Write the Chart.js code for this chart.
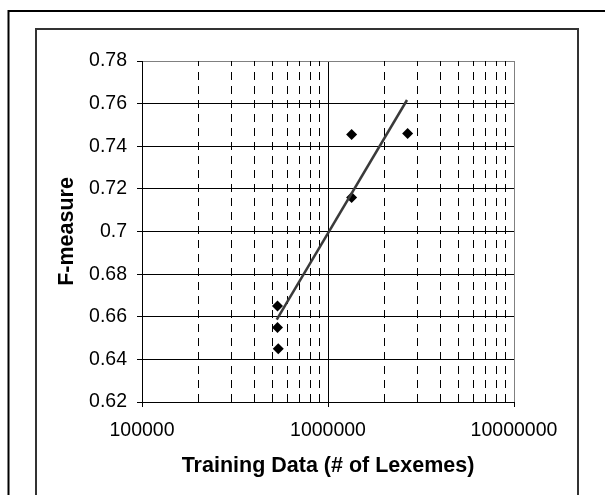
<!DOCTYPE html>
<html>
<head>
<meta charset="utf-8">
<script src="https://cdn.jsdelivr.net/npm/chart.js@4/dist/chart.umd.min.js"></script>
<style>
  html, body { margin: 0; padding: 0; background: #fff; }
  #wrap { width: 605px; height: 495px; }
</style>
</head>
<body>
<div id="wrap"><canvas id="c" width="605" height="495"></canvas></div>
<script>
// Data
const pointX = [535000, 535000, 540000, 1340000, 1340000, 2680000];
const pointY = [0.665, 0.655, 0.645, 0.7455, 0.716, 0.746];
const trendX = [530000, 2660000];
const trendY = [0.6587, 0.7617];
const xTicks = [100000, 1000000, 10000000];
const yTicks = [0.62, 0.64, 0.66, 0.68, 0.7, 0.72, 0.74, 0.76, 0.78];
const xTitle = 'Training Data (# of Lexemes)';
const yTitle = 'F-measure';

const FONT = "'Liberation Sans', Arial, sans-serif";

const framePlugin = {
  id: 'frames',
  beforeDraw(chart) {
    const ctx = chart.ctx;
    ctx.save();
    ctx.fillStyle = '#fff';
    ctx.fillRect(0, 0, chart.width, chart.height);
    ctx.strokeStyle = '#000';
    ctx.lineWidth = 2;
    ctx.strokeRect(8.5, 11, 700, 600);
    ctx.strokeStyle = '#333';
    ctx.lineWidth = 2;
    ctx.strokeRect(36, 29, 542, 600);
    ctx.restore();
  }
};

const minorGridPlugin = {
  id: 'minorGrid',
  beforeDatasetsDraw(chart) {
    const xs = chart.scales.x, ys = chart.scales.y;
    const ctx = chart.ctx;
    ctx.save();
    ctx.strokeStyle = '#000';
    ctx.lineWidth = 1;
    ctx.setLineDash([8, 6]);
    for (let d = 1; d < xTicks.length; d++) {
      const base = xTicks[d - 1];
      for (let m = 2; m <= 9; m++) {
        const px = Math.round(xs.getPixelForValue(base * m)) + 0.5;
        ctx.beginPath();
        ctx.moveTo(px, ys.bottom);
        ctx.lineTo(px, ys.top);
        ctx.stroke();
      }
    }
    ctx.restore();
  }
};

new Chart(document.getElementById('c'), {
  type: 'scatter',
  data: {
    datasets: [
      {
        label: 'trend',
        data: trendX.map((x, i) => ({ x: x, y: trendY[i] })),
        showLine: true,
        borderColor: '#3a3a3a',
        borderWidth: 2.5,
        pointRadius: 0,
        fill: false
      },
      {
        label: 'F-measure',
        data: pointX.map((x, i) => ({ x: x, y: pointY[i] })),
        pointStyle: 'rectRot',
        pointRadius: 5.5,
        backgroundColor: '#000',
        borderColor: '#000',
        borderWidth: 0
      }
    ]
  },
  options: {
    responsive: false,
    animation: false,
    devicePixelRatio: 1,
    layout: { padding: { left: 50, top: 61, right: 91, bottom: 0 } },
    plugins: { legend: { display: false }, tooltip: { enabled: false } },
    scales: {
      x: {
        type: 'logarithmic',
        min: 100000,
        max: 10000000,
        afterBuildTicks(scale) { scale.ticks = xTicks.map(v => ({ value: v, major: true })); },
        afterFit(scale) { scale.height = 93; },
        ticks: {
          color: '#000',
          font: { family: FONT, size: 19.5 },
          padding: 12,
          maxRotation: 0,
          autoSkip: false,
          callback: (v) => String(v)
        },
        grid: {
          color: (c) => (c.tick && c.tick.value === 10000000) ? '#808080' : '#000',
          lineWidth: 1,
          tickLength: 5,
          tickColor: '#000'
        },
        border: { color: '#000', width: 1 },
        title: {
          display: true,
          text: xTitle,
          color: '#000',
          font: { family: FONT, size: 21.5, weight: 'bold' },
          padding: { top: 0, bottom: 16 }
        }
      },
      y: {
        min: 0.62,
        max: 0.78,
        afterBuildTicks(scale) { scale.ticks = yTicks.map(v => ({ value: v })); },
        afterFit(scale) { scale.width = 92; },
        ticks: {
          color: '#000',
          font: { family: FONT, size: 19.5 },
          padding: 10,
          callback: (v) => String(Math.round(v * 100) / 100)
        },
        grid: {
          color: (c) => (c.tick && Math.abs(c.tick.value - 0.78) < 1e-9) ? '#808080' : '#000',
          lineWidth: 1,
          tickLength: 5,
          tickColor: '#000'
        },
        border: { color: '#000', width: 1 },
        title: {
          display: true,
          text: yTitle,
          color: '#000',
          font: { family: FONT, size: 21.5, weight: 'bold' },
          padding: { top: 4, bottom: 0 }
        }
      }
    }
  },
  plugins: [framePlugin, minorGridPlugin]
});
</script>
</body>
</html>
